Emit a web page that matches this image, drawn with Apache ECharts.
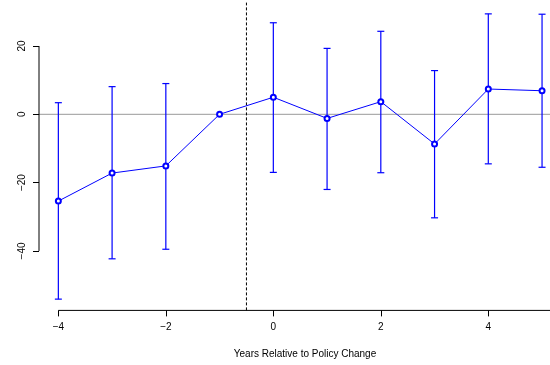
<!DOCTYPE html>
<html>
<head>
<meta charset="utf-8">
<script src="https://cdn.jsdelivr.net/npm/echarts@6/dist/echarts.min.js"></script>
<style>
html,body{margin:0;padding:0;background:#fff;}
#main{width:550px;height:365px;}
</style>
</head>
<body>
<div id="main"></div>
<script>
// event-study estimates
var years = [-4, -3, -2, -1, 0, 1, 2, 3, 4, 5];
var estimate = [-25.4, -17.2, -15.1, 0, 5.0, -1.2, 3.7, -8.7, 7.4, 6.9];
var lower = [-54.1, -42.3, -39.5, null, -17.0, -22.0, -17.1, -30.3, -14.5, -15.5];
var upper = [3.4, 8.1, 9.0, null, 26.8, 19.3, 24.3, 12.8, 29.4, 29.3];
var xTicks = [-4, -2, 0, 2, 4];
var yTicks = [-40, -20, 0, 20];
var policyLine = -0.5;

var xMin = -4.36, xMax = 5.148;
var yMin = -57.4, yMax = 32.7;

var chart = echarts.init(document.getElementById('main'));

var points = [];
var bars = [];
for (var i = 0; i < years.length; i++) {
	points.push([years[i], estimate[i]]);
	if (lower[i] !== null) bars.push([years[i], lower[i], upper[i]]);
}

var font = 'Liberation Sans, Arial, sans-serif';
function minus(v) { return String(v).replace('-', '\u2212'); }

chart.setOption({
	animation: false,
	title: {
		text: 'Years Relative to Policy Change',
		left: 300,
		top: 344,
		textAlign: 'center',
		textStyle: {fontSize: 10, fontWeight: 'normal', color: '#000', fontFamily: font}
	},
	grid: {left: 39, right: 0, top: 2.6, bottom: 54.6},
	xAxis: {
		type: 'value',
		min: xMin,
		max: xMax,
		splitLine: {show: false},
		axisLine: {show: false, onZero: false},
		axisTick: {show: true, customValues: xTicks, length: 6, lineStyle: {color: '#000'}},
		axisLabel: {customValues: xTicks, margin: 12, fontSize: 10, color: '#000', fontFamily: font, formatter: minus}
	},
	yAxis: {
		type: 'value',
		min: yMin,
		max: yMax,
		splitLine: {show: false},
		axisLine: {show: false, onZero: false},
		axisTick: {show: true, customValues: yTicks, length: 6, lineStyle: {color: '#000'}},
		axisLabel: {customValues: yTicks, rotate: 90, margin: 12, fontSize: 10, color: '#000', fontFamily: font, formatter: minus}
	},
	series: [
		{
			// zero reference line
			type: 'line',
			silent: true,
			symbol: 'none',
			data: [[xMin, 0], [xMax, 0]],
			lineStyle: {color: '#999', width: 1},
			z: 1
		},
		{
			// policy change marker
			type: 'line',
			silent: true,
			symbol: 'none',
			data: [[policyLine, yMin], [policyLine, yMax]],
			lineStyle: {color: '#000', width: 1, type: [3, 2]},
			z: 1
		},
		{
			// R style axis lines
			type: 'line',
			silent: true,
			symbol: 'none',
			clip: false,
			data: [[xMin, yTicks[0]], [xMin, yTicks[yTicks.length - 1]]],
			lineStyle: {color: '#000', width: 1},
			z: 1
		},
		{
			type: 'line',
			silent: true,
			symbol: 'none',
			clip: false,
			data: [[xTicks[0], yMin], [xMax, yMin]],
			lineStyle: {color: '#000', width: 1},
			z: 1
		},
		{
			// confidence intervals
			type: 'custom',
			silent: true,
			data: bars,
			z: 2,
			renderItem: function (params, api) {
				var x = api.value(0);
				var lo = api.coord([x, api.value(1)]);
				var hi = api.coord([x, api.value(2)]);
				var w = 3.5;
				var st = {stroke: '#0000ff', lineWidth: 1.2};
				return {
					type: 'group',
					children: [
						{type: 'line', shape: {x1: lo[0], y1: lo[1], x2: hi[0], y2: hi[1]}, style: st},
						{type: 'line', shape: {x1: lo[0] - w, y1: lo[1], x2: lo[0] + w, y2: lo[1]}, style: st},
						{type: 'line', shape: {x1: hi[0] - w, y1: hi[1], x2: hi[0] + w, y2: hi[1]}, style: st}
					]
				};
			}
		},
		{
			type: 'line',
			data: points,
			symbol: 'emptyCircle',
			symbolSize: 5,
			lineStyle: {color: '#0000ff', width: 1},
			itemStyle: {color: '#0000ff', borderColor: '#0000ff', borderWidth: 1},
			z: 3
		}
	]
});
</script>
</body>
</html>
